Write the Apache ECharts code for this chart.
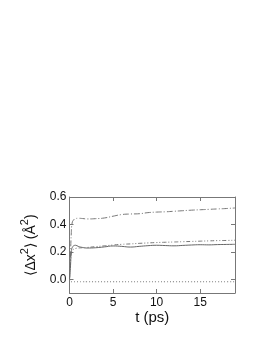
<!DOCTYPE html>
<html><head><meta charset="utf-8">
<script src="https://cdn.jsdelivr.net/npm/echarts@6/dist/echarts.min.js"></script>
<style>html,body{margin:0;padding:0;background:#fff}#c{width:275px;height:356px}</style>
</head><body><div id="c"></div>
<script>
var time = [0, 0.1, 0.2, 0.3, 0.5, 0.7, 1, 1.5, 2, 3, 4, 5, 6, 7, 8, 9, 10, 11, 12, 13, 14, 15, 16, 17, 18, 19];
var upper = [0, 0.15, 0.33, 0.41, 0.435, 0.443, 0.445, 0.443, 0.44, 0.442, 0.447, 0.46, 0.472, 0.476, 0.478, 0.486, 0.49, 0.492, 0.496, 0.5, 0.504, 0.507, 0.51, 0.513, 0.516, 0.52];
var dashDot = [0, 0.1, 0.18, 0.21, 0.22, 0.225, 0.228, 0.23, 0.232, 0.238, 0.244, 0.25, 0.255, 0.258, 0.262, 0.265, 0.268, 0.27, 0.272, 0.274, 0.276, 0.278, 0.28, 0.282, 0.283, 0.285];
var solid = [0, 0.08, 0.2, 0.23, 0.245, 0.248, 0.24, 0.232, 0.228, 0.23, 0.236, 0.243, 0.24, 0.235, 0.24, 0.245, 0.248, 0.246, 0.244, 0.247, 0.25, 0.252, 0.251, 0.253, 0.254, 0.255];
var dotted = [0, -0.015, -0.018, -0.018, -0.018, -0.018, -0.018, -0.018, -0.018, -0.018, -0.018, -0.018, -0.018, -0.018, -0.018, -0.018, -0.018, -0.018, -0.018, -0.018, -0.018, -0.018, -0.018, -0.018, -0.018, -0.018];
var xTicks = [0, 5, 10, 15];
var yTicks = [0.0, 0.2, 0.4, 0.6];

function pairs(ys){ return time.map(function(t,i){ return [t, ys[i]]; }); }
var font = 'Liberation Sans';
var axisCol = '#777';
var lineCol = '#777';
var chart = echarts.init(document.getElementById('c'));
chart.setOption({
  animation: false,
  grid: {left: 69.5, right: 40, top: 197, bottom: 63},
  xAxis: [{
    type: 'value', min: 0, max: 19, interval: 5,
    name: 't (ps)', nameLocation: 'middle', nameGap: 16,
    nameTextStyle: {fontFamily: font, fontSize: 15, color: '#111'},
    axisLine: {onZero: false, lineStyle: {color: axisCol, width: 1}},
    axisTick: {inside: true, length: 4, lineStyle: {color: axisCol}},
    axisLabel: {fontFamily: font, fontSize: 12, color: '#111', margin: 4,
      formatter: function(v){ return xTicks.indexOf(v) >= 0 ? String(v) : ''; }},
    splitLine: {show: false}
  }, {
    type: 'value', min: 0, max: 19, interval: 5, position: 'top',
    axisLine: {show: true, onZero: false, lineStyle: {color: axisCol, width: 1}},
    axisTick: {inside: true, length: 4, lineStyle: {color: axisCol}},
    axisLabel: {show: false}, splitLine: {show: false}
  }],
  yAxis: [{
    type: 'value', min: -0.1, max: 0.6, interval: 0.2,
    name: '⟨Δx{s|2}⟩ (Å{s|2})', nameLocation: 'middle', nameGap: 27, nameRotate: 90,
    nameTextStyle: {fontFamily: font, fontSize: 14, color: '#111',
      rich: {s: {fontFamily: font, fontSize: 11, color: '#111', padding: [0, 0, 12, 0]}}},
    axisLine: {show: true, onZero: false, lineStyle: {color: axisCol, width: 1}},
    axisLabel: {fontFamily: font, fontSize: 12, color: '#111', margin: 3,
      customValues: yTicks,
      formatter: function(v){ return v.toFixed(1); }},
    axisTick: {inside: true, length: 4, lineStyle: {color: axisCol}, customValues: yTicks},
    splitLine: {show: false}
  }, {
    type: 'value', min: -0.1, max: 0.6, interval: 0.2, position: 'right',
    axisLine: {show: true, onZero: false, lineStyle: {color: axisCol, width: 1}},
    axisTick: {inside: true, length: 4, lineStyle: {color: axisCol}, customValues: yTicks},
    axisLabel: {show: false}, splitLine: {show: false}
  }],
  series: [
    {type: 'line', data: pairs(upper), showSymbol: false, smooth: true,
     lineStyle: {color: lineCol, width: 1, type: [6, 2, 1, 2]}},
    {type: 'line', data: pairs(dashDot), showSymbol: false, smooth: true,
     lineStyle: {color: lineCol, width: 1, type: [4, 2, 1, 2, 1, 2]}},
    {type: 'line', data: pairs(solid), showSymbol: false, smooth: true,
     lineStyle: {color: '#666', width: 1, type: 'solid'}},
    {type: 'line', data: pairs(dotted), showSymbol: false, smooth: true,
     lineStyle: {color: lineCol, width: 1, type: [1, 2]}}
  ]
});
</script></body></html>
